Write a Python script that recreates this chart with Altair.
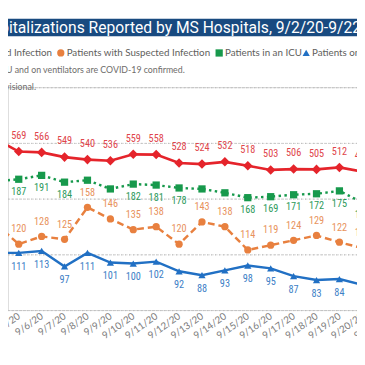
import altair as alt
import pandas as pd

# ---------------- data ----------------
dates = ["9/2/20", "9/3/20", "9/4/20", "9/5/20", "9/6/20", "9/7/20", "9/8/20",
         "9/9/20", "9/10/20", "9/11/20", "9/12/20", "9/13/20", "9/14/20",
         "9/15/20", "9/16/20", "9/17/20", "9/18/20", "9/19/20", "9/20/20",
         "9/21/20", "9/22/20"]
data_dates = ["9/4/20", "9/5/20", "9/6/20", "9/7/20", "9/8/20", "9/9/20",
              "9/10/20", "9/11/20", "9/12/20", "9/13/20", "9/14/20", "9/15/20",
              "9/16/20", "9/17/20", "9/18/20", "9/19/20", "9/20/20"]
confirmed = [613, 569, 566, 549, 540, 536, 559, 558, 528, 524, 532, 518, 503, 506, 505, 512, 497]
suspected = [141, 120, 128, 125, 158, 146, 135, 138, 120, 143, 138, 114, 119, 124, 129, 122, 116]
icu = [185, 187, 191, 184, 186, 177, 182, 181, 178, 177, 173, 168, 169, 171, 172, 175, 163]
vent = [111, 111, 113, 97, 111, 101, 100, 102, 92, 88, 93, 98, 95, 87, 83, 84, 78]

S_CONF = "Patients with Confirmed Infection"
S_SUSP = "Patients with Suspected Infection"
S_ICU = "Patients in an ICU"
S_VENT = "Patients on Ventilators"
series_names = [S_CONF, S_SUSP, S_ICU, S_VENT]

TITLE_HIDDEN = "COVID-19 Hos"
TITLE_SHOWN = "pitalizations Reported by MS Hospitals, 9/2/20-9/22/20"
NOTE1_HIDDEN = "Note: Patients in an I"
NOTE1_SHOWN = "CU and on ventilators are COVID-19 confirmed."
NOTE2_HIDDEN = "Data are pr"
NOTE2_SHOWN = "ovisional."

# ---------------- styles ----------------
RED, ORANGE, GREEN, BLUE = "#E5242B", "#E8803F", "#17994C", "#2170C4"
RED_L, ORANGE_L, GREEN_L, BLUE_L = "#E0454B", "#E8925C", "#2E9A5C", "#3D80C6"
NAVY = "#184A80"
GREY = "#6E6C6A"
LABEL_FONT = "Liberation Sans Narrow, Roboto Condensed, Roboto"
TEXT_FONT = "Lato"
SHAPES = ["diamond", "circle", "square", "triangle-up"]
COLORS = [RED, ORANGE, GREEN, BLUE]

W, H = 357, 228
X_FIRST, X_LAST = -59.3, 409.3

wide = pd.DataFrame({"date": data_dates, "confirmed": confirmed,
                     "suspected": suspected, "icu": icu, "vent": vent})

long = pd.concat([
    pd.DataFrame({"date": data_dates, "value": suspected, "series": S_SUSP}),
    pd.DataFrame({"date": data_dates, "value": icu, "series": S_ICU}),
    pd.DataFrame({"date": data_dates, "value": vent, "series": S_VENT}),
], ignore_index=True)

# Power BI hides an ICU label that would collide with the suspected label above
gap = pd.Series(icu) - pd.Series(suspected)
icu_lab = pd.DataFrame({"date": data_dates, "value": icu})[(gap - 28).abs() >= 12]

x_enc = alt.X("date:O", sort=dates,
              scale=alt.Scale(type="point", domain=dates, range=[X_FIRST, X_LAST], padding=0),
              axis=alt.Axis(title=None, labelAngle=-35, labelAlign="right",
                            labelBaseline="middle", labelPadding=5, tickSize=0,
                            ticks=False, domain=False, grid=False,
                            labelFont=TEXT_FONT, labelFontSize=10, labelColor="#7A7A7A",
                            labelOverlap=False))

y_red = alt.Y("confirmed:Q",
              scale=alt.Scale(domain=[0, 800], nice=False, zero=False),
              axis=alt.Axis(title=None, values=[0, 200, 400, 600, 800], labels=False,
                            ticks=False, domain=False, grid=True, gridDash=[1, 3],
                            gridColor="#BDBDBD", gridWidth=1))
y_pri = alt.Y("value:Q", scale=alt.Scale(domain=[52, 282], nice=False, zero=False), axis=None)

color_enc = alt.Color("series:N", scale=alt.Scale(domain=series_names, range=COLORS),
                      legend=None)
shape_enc = alt.Shape("series:N", scale=alt.Scale(domain=series_names, range=SHAPES),
                      legend=None)

base = alt.Chart(wide)
red_line = base.mark_line(color=RED, strokeWidth=2.7).encode(x=x_enc, y=y_red)
red_pts = base.mark_point(filled=True, opacity=1, size=95, shape="diamond",
                          color=RED).encode(x=x_enc, y=y_red)
red_txt = base.mark_text(dy=-16, color=RED_L, font=LABEL_FONT, fontSize=10.5).encode(
    x=x_enc, y=y_red, text="confirmed:Q")

lb = alt.Chart(long)
susp_line = lb.transform_filter(alt.datum.series == S_SUSP).mark_line(
    color=ORANGE, strokeWidth=2.5, strokeDash=[7, 4]).encode(x=x_enc, y=y_pri)
icu_line = lb.transform_filter(alt.datum.series == S_ICU).mark_line(
    color=GREEN, strokeWidth=2.5, strokeDash=[2.5, 3.5]).encode(x=x_enc, y=y_pri)
vent_line = lb.transform_filter(alt.datum.series == S_VENT).mark_line(
    color=BLUE, strokeWidth=2.5).encode(x=x_enc, y=y_pri)
pri_pts = lb.mark_point(filled=True, opacity=1, size=55).encode(
    x=x_enc, y=y_pri, color=color_enc, shape=shape_enc)

susp_txt = lb.transform_filter(alt.datum.series == S_SUSP).mark_text(
    dy=-15, color=ORANGE_L, font=LABEL_FONT, fontSize=10.5).encode(x=x_enc, y=y_pri, text="value:Q")
icu_txt = alt.Chart(icu_lab).mark_text(
    dy=13, color=GREEN_L, font=LABEL_FONT, fontSize=10.5).encode(x=x_enc, y=y_pri, text="value:Q")
vent_txt = lb.transform_filter(alt.datum.series == S_VENT).mark_text(
    dy=14, color=BLUE_L, font=LABEL_FONT, fontSize=10.5).encode(x=x_enc, y=y_pri, text="value:Q")

one = alt.Chart(pd.DataFrame({"k": [0]}))


def txt(text, x, y, align, color, font, size, baseline="middle"):
    return one.mark_text(align=align, baseline=baseline, color=color, font=font,
                         fontSize=size).encode(x=alt.value(x), y=alt.value(y),
                                               text=alt.value(text))


banner = one.mark_rect(color=NAVY).encode(
    x=alt.value(-8), x2=alt.value(W), y=alt.value(-70), y2=alt.value(-52))
title_a = txt(TITLE_HIDDEN, -8, -55, "right", "white", "Roboto", 16, "alphabetic")
title_b = txt(TITLE_SHOWN, -8, -55, "left", "white", "Roboto", 16, "alphabetic")
note1a = txt(NOTE1_HIDDEN, -8, -17, "right", GREY, TEXT_FONT, 9)
note1b = txt(NOTE1_SHOWN, -8, -17, "left", GREY, TEXT_FONT, 9)
note2a = txt(NOTE2_HIDDEN, -8, 0, "right", GREY, TEXT_FONT, 9)
note2b = txt(NOTE2_SHOWN, -8, 0, "left", GREY, TEXT_FONT, 9)

# legend row (symbol x in plot pixels); the first entry runs off the left edge
LEG_Y = -35
LEG_FS = 10
leg_layers = [
    one.mark_point(filled=True, opacity=1, size=60, shape=SHAPES[0], color=COLORS[0]).encode(
        x=alt.value(-150), y=alt.value(LEG_Y)),
    txt(S_CONF, 45, LEG_Y, "right", "#605E5C", TEXT_FONT, LEG_FS),
]
for shp, col, name, sx in zip(SHAPES[1:], COLORS[1:], series_names[1:], [54, 216, 305]):
    leg_layers.append(one.mark_point(filled=True, opacity=1, size=55, shape=shp, color=col)
                      .encode(x=alt.value(sx), y=alt.value(LEG_Y)))
    leg_layers.append(txt(name, sx + 6, LEG_Y, "left", "#605E5C", TEXT_FONT, LEG_FS))

chart = alt.layer(
    red_line, susp_line, icu_line, vent_line, red_pts, pri_pts,
    red_txt, susp_txt, icu_txt, vent_txt,
    banner, title_a, title_b, note1a, note1b, note2a, note2b, *leg_layers,
).resolve_scale(y="independent").properties(
    width=W, height=H, autosize="none",
    padding={"top": 77, "left": 0, "right": 0, "bottom": 44},
).configure_view(stroke=None).configure(background="white")

chart.save("out.html", embed_options={"renderer": "svg", "actions": False})
